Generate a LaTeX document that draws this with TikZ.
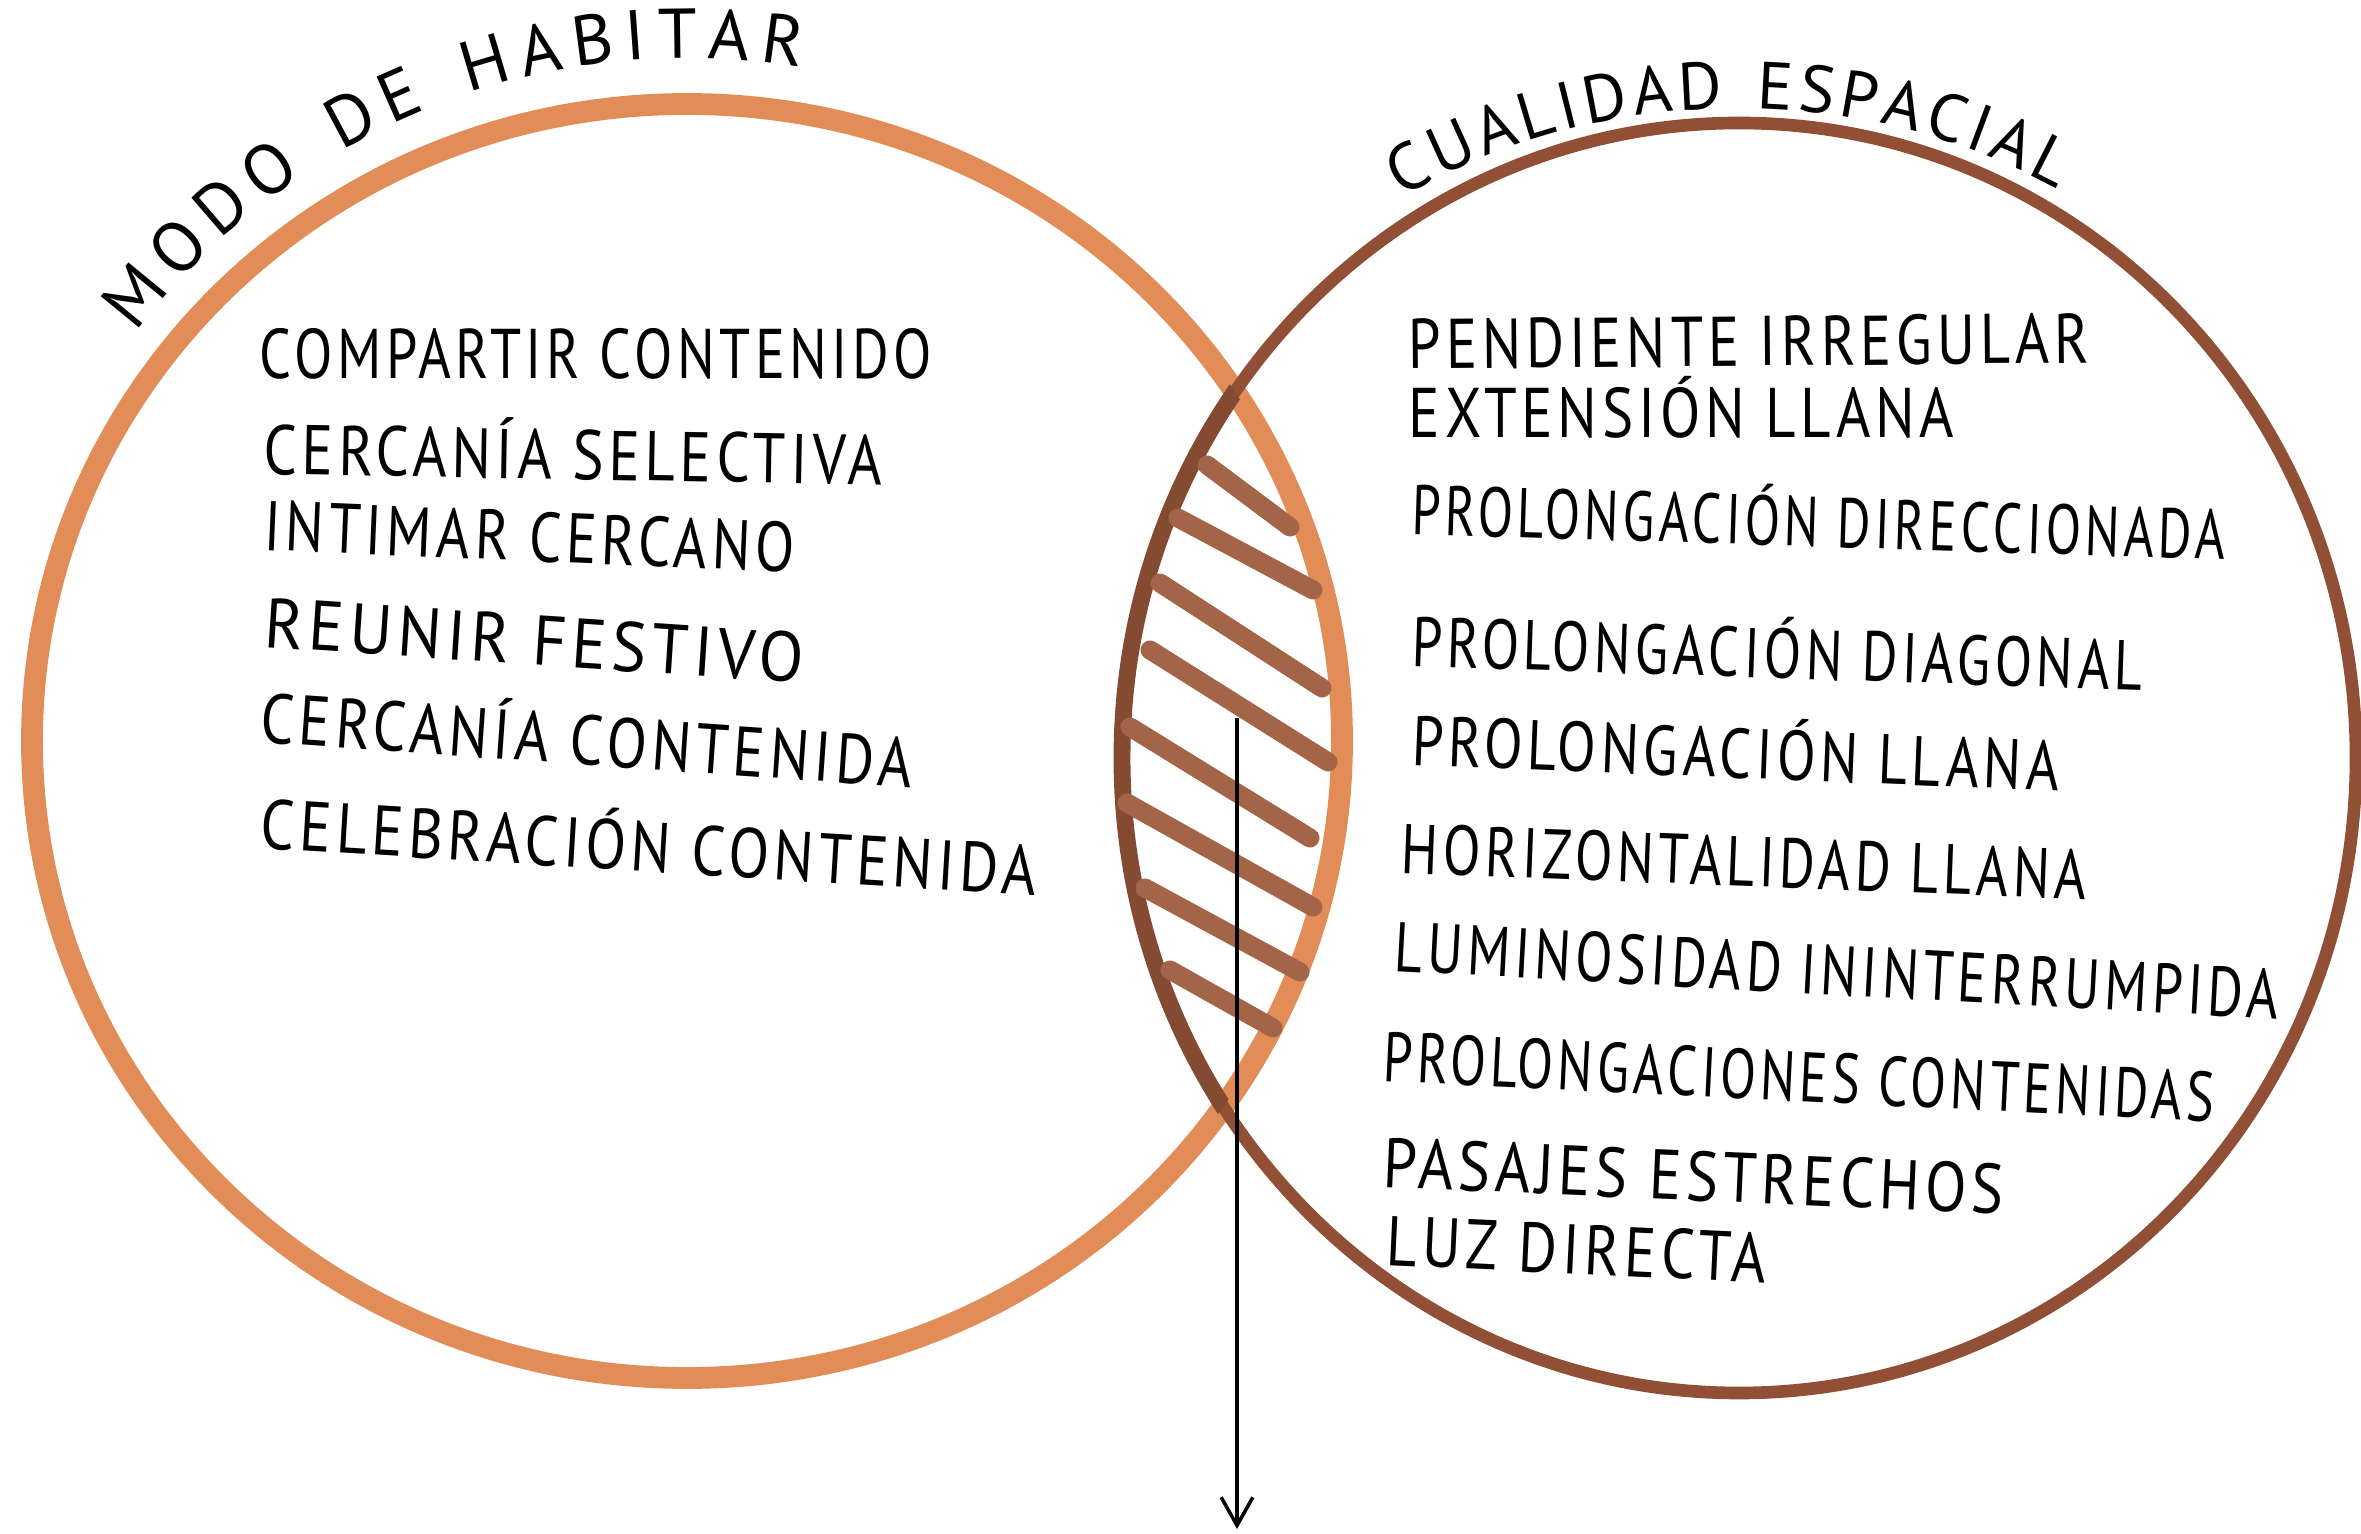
\documentclass[tikz,border=0pt]{standalone}
\usepackage{graphicx}
\usepackage{fontspec}
\newfontfamily\hand{PT Sans}[LetterSpace=8]
\usetikzlibrary{decorations.text,arrows.meta,calc}
\definecolor{orangeL}{RGB}{226,140,88}
\definecolor{brownR}{RGB}{145,80,54}
\definecolor{hatchC}{RGB}{164,100,72}
\newcommand\fitw[2]{\setbox0=\hbox{#2}\edef\fitwd{\the\wd0}\pgfmathsetmacro\fitratio{#1*0.284528/\fitwd}\scalebox{\fitratio}[1]{\box0}}
\newcommand\titlefont{\hand\fontsize{20}{24}\selectfont}
\newcommand\titlefontR{\hand\fontsize{19}{23}\selectfont}
\begin{document}
\begin{tikzpicture}[x=0.01cm,y=0.01cm,
  circL/.style={draw=orangeL,line width=6.2pt},
  circR/.style={draw=brownR,line width=3.6pt},
  lensR/.style={draw=brownR!92!black,line width=4.8pt},
  hatchline/.style={draw=hatchC,line width=5.4pt,line cap=round},
  txt/.style={anchor=base west,inner sep=0pt,font={\hand\fontsize{20}{24}\selectfont}},
  arrowline/.style={line width=1pt,-{Straight Barb[length=8pt,width=9pt]}}]
\useasboundingbox (0,0) rectangle (2361,1533);
\fill[white] (0,0) rectangle (2361,1533);
% centres
\coordinate (cL) at (687,792);
\coordinate (cR) at (1739,775);
\coordinate (tL) at (687,785);
\coordinate (tR) at (1737,780);
% circles
\draw[circL] (cL) ellipse [x radius=655, y radius=637];
\draw[circR] (cR) ellipse [x radius=617, y radius=635];
\begin{scope}
  \clip (cL) ellipse [x radius=655, y radius=637];
  \draw[lensR] (cR) ellipse [x radius=617, y radius=635];
\end{scope}
% hatching in the intersection
\draw[hatchline] (1207,1068) -- (1290,1006);
\draw[hatchline] (1178,1015) -- (1313,943);
\draw[hatchline] (1160,950) -- (1322,845);
\draw[hatchline] (1150,883) -- (1328,771);
\draw[hatchline] (1130,806) -- (1310,695);
\draw[hatchline] (1127,730) -- (1313,626);
\draw[hatchline] (1145,645) -- (1300,561);
\draw[hatchline] (1170,563) -- (1273,505);
% arrow
\coordinate (atop) at (1237,815);
\coordinate (abot) at (1237,4);
\draw[arrowline] (atop) -- (abot);
% titles
\path[decorate,decoration={text along path,text align={fit to path},
  text={|\titlefont|MODO DE HABITAR}}]
  ($(tL)+(143:690)$) arc[start angle=143,end angle=80.5,radius=690];
\path[decorate,decoration={text along path,text align={fit to path},
  text={|\titlefontR|CUALIDAD ESPACIAL}}]
  ($(tR)+(120.5:660 and 645)$) arc[start angle=120.5,end angle=61,x radius=660,y radius=645];
% left texts
\node[txt] (l1) at (259,1154) {\fitw{672}{COMPARTIR CONTENIDO}};
\node[txt,rotate=-1] (l2) at (263,1059) {\fitw{618}{CERCANÍA SELECTIVA}};
\node[txt,rotate=-2.4] (l3) at (263,983) {\fitw{530}{INTIMAR CERCANO}};
\node[txt,rotate=-3.8] (l4) at (263,886) {\fitw{539}{REUNIR FESTIVO}};
\node[txt,rotate=-4] (l5) at (259,791) {\fitw{652}{CERCANÍA CONTENIDA}};
\node[txt,rotate=-3.5] (l6) at (259,685) {\fitw{777}{CELEBRACIÓN CONTENIDA}};
% right texts
\node[txt,rotate=0.5] (r1) at (1408,1164) {\fitw{680}{PENDIENTE IRREGULAR}};
\node[txt] (r2) at (1408,1095) {\fitw{545}{EXTENSIÓN LLANA}};
\node[txt,rotate=-1.8] (r3) at (1411,999) {\fitw{813}{PROLONGACIÓN DIRECCIONADA}};
\node[txt,rotate=-1.9] (r4) at (1411,867) {\fitw{730}{PROLONGACIÓN DIAGONAL}};
\node[txt,rotate=-2.3] (r5) at (1411,768) {\fitw{647}{PROLONGACIÓN LLANA}};
\node[txt,rotate=-2.2] (r6) at (1400,660) {\fitw{685}{HORIZONTALIDAD LLANA}};
\node[txt,rotate=-3.1] (r7) at (1393,562) {\fitw{884}{LUMINOSIDAD ININTERRUMPIDA}};
\node[txt,rotate=-2.8] (r8) at (1382,452) {\fitw{831}{PROLONGACIONES CONTENIDAS}};
\node[txt,rotate=-2.5] (r9) at (1382,346) {\fitw{620}{PASAJES ESTRECHOS}};
\node[txt,rotate=-2.7] (r10) at (1385,268) {\fitw{380}{LUZ DIRECTA}};
\end{tikzpicture}
\end{document}
